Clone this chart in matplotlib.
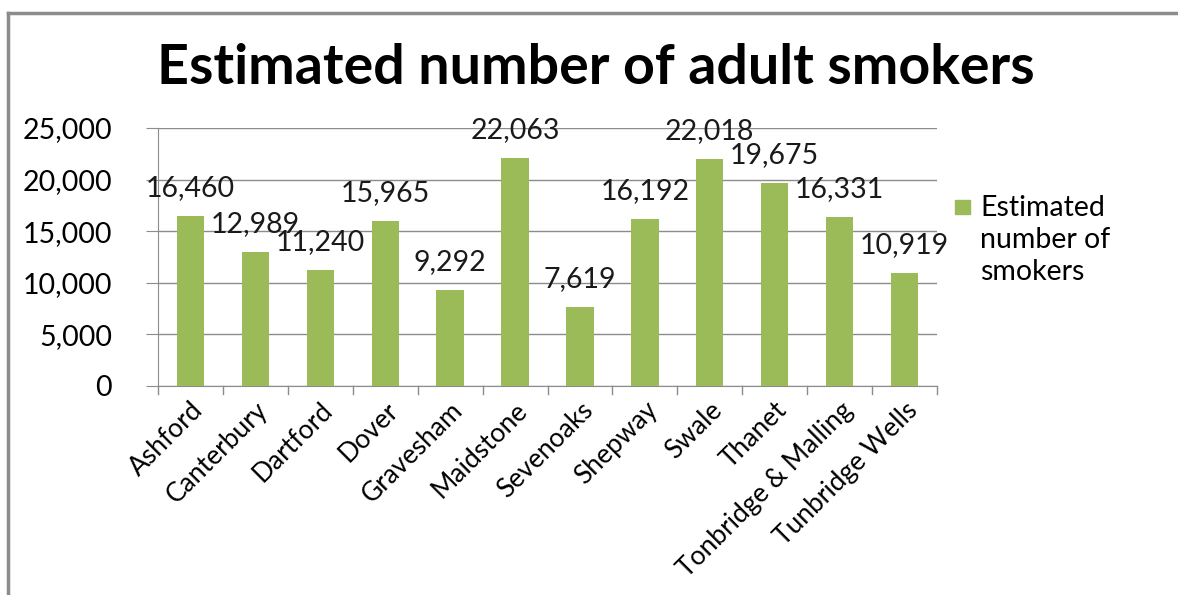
import matplotlib
matplotlib.use("Agg")
import matplotlib.pyplot as plt
from matplotlib.patches import Rectangle
from matplotlib.ticker import FuncFormatter, MultipleLocator

categories = ["Ashford", "Canterbury", "Dartford", "Dover", "Gravesham", "Maidstone",
              "Sevenoaks", "Shepway", "Swale", "Thanet", "Tonbridge & Malling", "Tunbridge Wells"]
values = [16460, 12989, 11240, 15965, 9292, 22063, 7619, 16192, 22018, 19675, 16331, 10919]
series_name = "Estimated\nnumber of\nsmokers"
title = "Estimated number of adult smokers"

plt.rcParams['font.family'] = ['Lato', 'DejaVu Sans']
fig = plt.figure(figsize=(11.78, 5.95), dpi=100)
W, H = 1178, 595
ax = fig.add_axes([158 / W, 1 - 386 / H, (937 - 158) / W, (386 - 128) / H])

# outer border (top and left visible)
fig.add_artist(plt.Line2D([8 / W, 8 / W], [0, 1 - 13 / H], transform=fig.transFigure, color="#8c8c8c", lw=2.5))
fig.add_artist(plt.Line2D([8 / W, 1], [1 - 13 / H, 1 - 13 / H], transform=fig.transFigure, color="#8c8c8c", lw=2.5))

green = "#9BBB59"
FS = 20.5
x = range(len(categories))
ax.bar(x, values, width=0.42, color=green, zorder=3)
ax.set_xlim(-0.5, len(categories) - 0.5)
ax.set_ylim(0, 25000)
ax.yaxis.set_major_locator(MultipleLocator(5000))
ax.yaxis.set_major_formatter(FuncFormatter(lambda v, p: f"{int(v):,}"))
ax.grid(axis="y", color="#8c8c8c", lw=1, zorder=0)
for s in ["top", "right"]:
    ax.spines[s].set_visible(False)
for s in ["left", "bottom"]:
    ax.spines[s].set_color("#8c8c8c")
ax.tick_params(axis="y", length=9, color="#8c8c8c", labelsize=FS, pad=24)
ax.tick_params(axis="x", length=0, labelsize=19)
ax.set_xticks(x)
ax.set_xticklabels(categories, rotation=45, ha="right", rotation_mode="anchor")
for lab in ax.get_xticklabels():
    lab.set_y(-0.025)
# category boundary tick marks
for i in range(len(categories) + 1):
    ax.plot([i - 0.5, i - 0.5], [0, -0.03], transform=ax.get_xaxis_transform(), color="#8c8c8c", lw=1, clip_on=False)

for xi, v in zip(x, values):
    ax.annotate(f"{v:,}", (xi, v), xytext=(0, 28), textcoords="offset pixels",
                ha="center", va="center", fontsize=FS, color="#1a1a1a")

fig.text(596 / W, 1 - 68 / H, title, ha="center", va="center", fontsize=40, fontweight="bold")

# legend
fig.add_artist(Rectangle((955 / W, 1 - 214 / H), 15 / W, 14 / H, transform=fig.transFigure, color=green))
fig.text(980 / W, 1 - 240 / H, series_name, ha="left", va="center", fontsize=FS,
         linespacing=1.3, transform=fig.transFigure)

fig.savefig("out.png", dpi=100, facecolor="white")
